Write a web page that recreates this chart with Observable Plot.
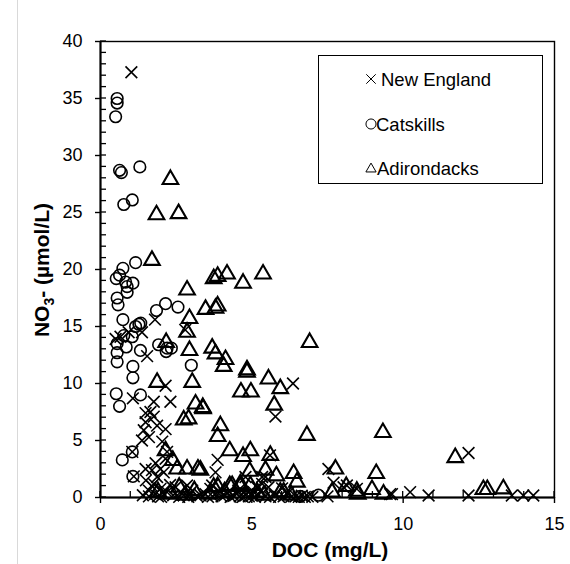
<!DOCTYPE html>
<html>
<head>
<meta charset="utf-8">
<script src="https://cdn.jsdelivr.net/npm/d3@7"></script>
<script src="https://cdn.jsdelivr.net/npm/@observablehq/plot@0.6"></script>
<style>
  html, body { margin: 0; padding: 0; background: #fff; }
  #chart { position: relative; width: 570px; height: 564px; }
  #chart svg { display: block; }
</style>
</head>
<body>
<div id="chart"></div>
<script>
// ---- Data ----
const seriesNames = ["New England", "Catskills", "Adirondacks"];

const neX = [1.02,0.5,0.66,0.93,1.37,1.8,1.54,2.15,2.8,1.07,1.76,2.31,1.49,1.65,1.76,1.49,1.87,2.15,1.43,1.6,1.37,2.04,2.2,1.05,2.15,1.82,1.49,1.98,1.7,2.09,1.87,1.1,6.36,5.78,5.6,3.87,3.8,7.53,7.7,5.34,4.79,8.03,5.17,5.55,3.69,12.16,10.23,10.84,12.16,13.59,13.97,14.3,9.63,8.14,8.47,5.45,5.34,5.06,9.57,
  1.4,1.5,1.6,1.7,1.76,1.8,1.9,1.98,2.05,2.2,2.3,2.4,2.48,2.6,2.64,2.75,2.86,2.95,3.03,3.2,3.3,3.47,3.55,3.63,3.8,3.9,4.0,4.1,4.2,4.3,4.4,4.5,4.6,4.7,4.8,4.9,5.0,5.1,5.2,5.45,5.6,5.75,5.9,6.05,6.3,6.45,6.55,6.65,6.75,6.85,7.0,7.5,2.0,2.9,1.6,3.7,4.55,5.3,6.2,6.0];
const neY = [37.3,13.9,14.1,14.5,14.5,15.6,12.4,9.8,14.7,8.7,8.4,8.4,7.4,7.5,7.1,6.6,6.3,6.0,5.9,5.3,5.0,4.9,4.0,4.0,3.4,3.0,2.5,2.5,2.4,2.2,1.8,1.85,10.0,7.1,3.7,3.3,2.2,2.5,1.3,1.8,1.8,0.9,0.9,0.9,1.05,3.9,0.47,0.18,0.18,0.18,0.18,0.18,0.3,1.05,0.76,1.8,1.2,0.47,0.3,
  0.2,1.5,0.6,1.0,1.2,0.3,0.1,0.76,0.4,0.47,1.1,0.2,0.9,0.05,0.47,0.2,1.05,0.3,0.6,0.1,0.2,0.3,0.05,0.76,0.3,0.6,0.1,0.2,0.4,0.05,0.15,0.3,0.1,0.05,0.2,0.1,0.15,0.05,0.3,0.1,0.05,0.2,0.05,0.1,0.05,0.1,0.05,0.15,0.05,0.1,0.05,0.1,0.05,0.05,0.1,0.1,0.6,0.6,0.4,0.8];

const catX = [0.55,0.55,0.5,0.63,0.69,1.3,0.77,1.05,1.16,0.74,0.52,0.63,0.83,1.07,0.88,0.88,0.55,0.58,2.15,1.85,2.56,0.74,1.27,1.16,1.33,0.77,1.05,0.55,0.85,1.32,0.55,0.55,1.92,2.2,2.34,2.17,3.0,1.07,1.07,0.52,0.63,1.32,1.05,0.72,1.07,6.6,7.2];
const catY = [35.0,34.6,33.4,28.7,28.5,29.0,25.7,26.1,20.6,20.1,19.2,19.5,18.9,18.8,18.5,18.0,17.5,16.9,17.0,16.4,16.7,15.6,15.2,15.0,15.3,14.2,14.1,13.5,13.2,12.9,12.7,11.9,13.4,13.1,13.1,12.8,11.6,11.5,10.5,9.1,8.0,9.0,4.0,3.3,1.85,0.1,0.2];

const adX = [2.31,1.85,2.58,1.7,2.86,2.94,2.86,2.17,2.94,3.69,3.74,3.47,3.8,3.87,3.87,4.18,4.71,5.37,3.8,4.13,4.07,4.84,4.84,5.55,6.91,5.94,4.64,4.97,3.39,5.74,3.96,3.87,6.82,4.27,4.71,4.95,5.61,4.93,5.45,5.81,6.38,6.49,7.76,3.3,3.87,4.27,4.62,8.12,9.33,9.11,11.72,8.97,9.35,12.65,12.78,13.31,8.47,1.87,3.03,3.14,3.38,2.91,2.75,2.53,2.86,3.22,2.15,2.39,
  2.6,3.1,3.6,3.74,4.35,4.62,4.95,5.17,5.4,5.94,6.05,6.3,7.65,8.5,2.3,4.1,1.9,2.8];
const adY = [27.9,24.8,24.9,20.8,18.2,15.7,14.5,13.6,12.9,13.1,19.2,16.5,16.6,16.8,19.4,19.6,18.8,19.6,12.6,12.1,11.5,11.2,11.0,10.4,13.6,9.55,9.25,9.25,7.8,8.1,6.3,5.35,5.45,4.1,3.6,4.1,3.7,2.3,2.4,1.9,2.1,1.35,2.5,2.4,0.97,1.05,0.97,0.97,5.7,2.1,3.5,0.7,0.3,0.7,0.7,0.76,0.55,10.1,10.1,8.2,7.9,6.9,6.8,2.5,2.5,2.5,4.1,3.25,
  0.9,0.6,0.3,0.9,1.05,1.2,1.05,0.47,0.2,0.47,0.47,0.2,0.47,0.3,0.3,0.5,0.5,0.2];

const xMajor = [0, 5, 10, 15];
const yMajor = [0, 5, 10, 15, 20, 25, 30, 35, 40];
const xMinor = d3.range(0, 16, 1);
const yMinor = d3.range(0, 41, 1);

const ne = neX.map((x, i) => ({x, y: neY[i]}));
const cat = catX.map((x, i) => ({x, y: catY[i]}));
const ad = adX.map((x, i) => ({x, y: adY[i]}));

const FONT = "'Liberation Sans', Arial, Helvetica, sans-serif";

const chart = Plot.plot({
  width: 570,
  height: 564,
  marginLeft: 100,
  marginRight: 16,
  marginTop: 41,
  marginBottom: 67,
  style: {fontFamily: FONT, fontSize: "18px", color: "#000", background: "#fff", overflow: "visible"},
  x: {domain: [0, 15]},
  y: {domain: [0, 40]},
  marks: [
    Plot.axisY({ticks: yMajor, tickSize: 5, tickPadding: 13, label: null, fontSize: 18, strokeWidth: 1.4}),
    Plot.axisX({ticks: xMajor, tickSize: 6, tickPadding: 14, label: null, fontSize: 18, strokeWidth: 1.4}),
    Plot.frame({stroke: "#000", strokeWidth: 1.4}),
    Plot.ruleY([0], {stroke: "#000", strokeWidth: 2}),
    Plot.ruleX([0], {stroke: "#000", strokeWidth: 2}),
    Plot.dot(ne, {x: "x", y: "y", symbol: "times", r: 5.4, stroke: "#000", strokeWidth: 1.6, fill: "none"}),
    Plot.dot(cat, {x: "x", y: "y", symbol: "circle", r: 5.8, stroke: "#000", strokeWidth: 1.6, fill: "none"}),
    Plot.dot(ad, {x: "x", y: "y", symbol: "triangle", r: 5.8, stroke: "#000", strokeWidth: 2.1, fill: "none"})
  ]
});

const svg = d3.select(chart);
const sx = chart.scale("x"), sy = chart.scale("y");
const x0 = sx.apply(0), y0 = sy.apply(0);

// minor (inward) ticks, through the chart's own scales
const mt = svg.append("g").attr("stroke", "#000").attr("stroke-width", 1.3);
for (const v of yMinor) {
  const yy = sy.apply(v);
  mt.append("line").attr("x1", x0).attr("x2", x0 + 6).attr("y1", yy).attr("y2", yy);
}
for (const v of xMinor) {
  const xx = sx.apply(v);
  mt.append("line").attr("x1", xx).attr("x2", xx).attr("y1", y0).attr("y2", y0 - 6);
}

// light outer chart-area border line
svg.append("line").attr("x1", 17.5).attr("x2", 17.5).attr("y1", 0).attr("y2", 564)
  .attr("stroke", "#d9d9d9").attr("stroke-width", 1);

// axis titles
const yt = svg.append("text")
  .attr("transform", "translate(49,270) rotate(-90)")
  .attr("text-anchor", "middle")
  .attr("font-family", FONT).attr("font-weight", "bold").attr("font-size", 21).attr("fill", "#000");
yt.append("tspan").text("NO");
yt.append("tspan").attr("font-size", 14).attr("dy", 5).text("3");
yt.append("tspan").attr("dy", -5).text("- (µmol/L)");

svg.append("text")
  .attr("x", 330).attr("y", 557)
  .attr("text-anchor", "middle")
  .attr("font-family", FONT).attr("font-weight", "bold").attr("font-size", 21).attr("fill", "#000")
  .text("DOC (mg/L)");

// legend
const lg = svg.append("g");
lg.append("rect").attr("x", 318.5).attr("y", 55.5).attr("width", 224).attr("height", 128)
  .attr("fill", "#fff").attr("stroke", "#000").attr("stroke-width", 1);
const legendItems = [
  {name: seriesNames[0], sym: d3.symbolTimes, size: 60, cy: 79, tx: 381},
  {name: seriesNames[1], sym: d3.symbolCircle, size: 80, cy: 124, tx: 376},
  {name: seriesNames[2], sym: d3.symbolTriangle2, size: 75, cy: 168, tx: 377}
];
for (const it of legendItems) {
  lg.append("path").attr("d", d3.symbol(it.sym, it.size)())
    .attr("transform", `translate(371,${it.cy + (it.sym === d3.symbolTriangle2 ? 1 : 0)})`)
    .attr("fill", "none").attr("stroke", "#000").attr("stroke-width", 1);
  lg.append("text").attr("x", it.tx).attr("y", it.cy + 6.5)
    .attr("text-anchor", "start")
    .attr("font-family", FONT).attr("font-size", 18.5).attr("fill", "#000")
    .text(it.name);
}

document.getElementById("chart").appendChild(chart);
</script>
</body>
</html>
